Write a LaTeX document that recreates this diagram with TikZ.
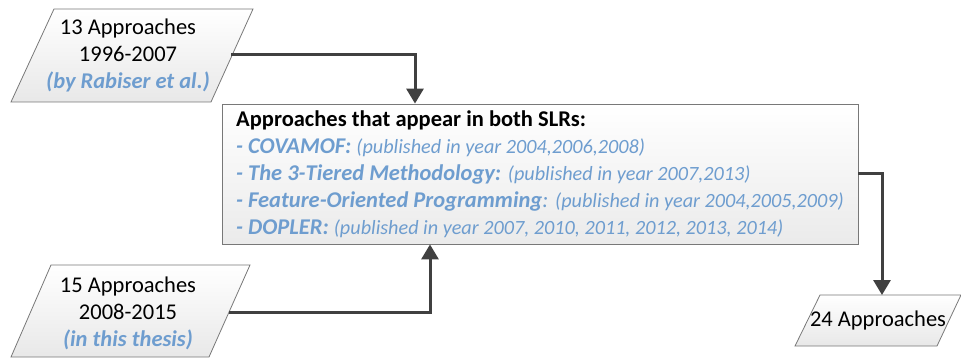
\documentclass[tikz,border=0pt]{standalone}
\usepackage{fontspec}
\setmainfont{Carlito}
\usetikzlibrary{arrows.meta}
\definecolor{linkblue}{RGB}{110,157,207}
\definecolor{connector}{RGB}{64,64,64}
\definecolor{frame}{RGB}{120,120,120}
\newcommand{\bigtxt}{\fontsize{22.5}{27}\selectfont}
\newcommand{\smalltxt}{\fontsize{20.2}{27}\selectfont}
\tikzset{
  x=1pt, y=-1pt,
  datashape/.style={draw=frame, line width=0.8pt, top color=white, bottom color=black!9},
  procbox/.style={draw=frame, line width=0.8pt, top color=white, bottom color=black!8,
    minimum width=636pt, minimum height=140pt, inner sep=0pt, align=left,
    font=\bigtxt},
  label/.style={align=center, inner sep=0pt, font=\bigtxt},
  conn/.style={draw=connector, line width=3pt,
    -{Triangle[width=17pt,length=15pt]}},
}
\begin{document}
\begin{tikzpicture}
\path[use as bounding box] (0,0) rectangle (961,358);

% input: earlier review
\draw[datashape] (54,9) -- (253,9) -- (211,102) -- (11,102) -- cycle;
\node[label] (srcA) at (128,55) {13 Approaches\\1996-2007\\\textcolor{linkblue}{\textbf{\textit{(by Rabiser et al.)}}}};
\coordinate (srcAout) at (231,55);

% input: this thesis
\draw[datashape] (51,265) -- (250,265) -- (209,357) -- (11,357) -- cycle;
\node[label] (srcB) at (128,313) {15 Approaches\\2008-2015\\\textcolor{linkblue}{\textbf{\textit{(in this thesis)}}}};
\coordinate (srcBout) at (229,312);

% merge step
\node[procbox] (merge) at (540,174) {%
\textbf{Approaches that appear in both SLRs:}\\
\textcolor{linkblue}{\textbf{\textit{- COVAMOF:}} {\smalltxt\textit{(published in year 2004,2006,2008)}}}\\
\textcolor{linkblue}{\textbf{\textit{- The 3-Tiered Methodology:}} {\smalltxt\textit{(published in year 2007,2013)}}}\\
\textcolor{linkblue}{\textbf{\textit{- Feature-Oriented Programming}}\textit{:} {\smalltxt\textit{(published in year 2004,2005,2009)}}}\\
\textcolor{linkblue}{\textbf{\textit{- DOPLER:}} {\smalltxt\textit{(published in year 2007, 2010, 2011, 2012, 2013, 2014)}}}};

% output
\draw[datashape] (820,295) -- (961,295) -- (937,346) -- (795,346) -- cycle;
\node[label] (result) at (878,321) {24 Approaches};
\coordinate (resultin) at (882,295);

% connectors
\draw[conn] (srcAout) -| (415,0 |- merge.north);
\draw[conn] (srcBout) -| (430,0 |- merge.south);
\draw[conn] (merge.east |- 0,174) -| (resultin);
\end{tikzpicture}
\end{document}
